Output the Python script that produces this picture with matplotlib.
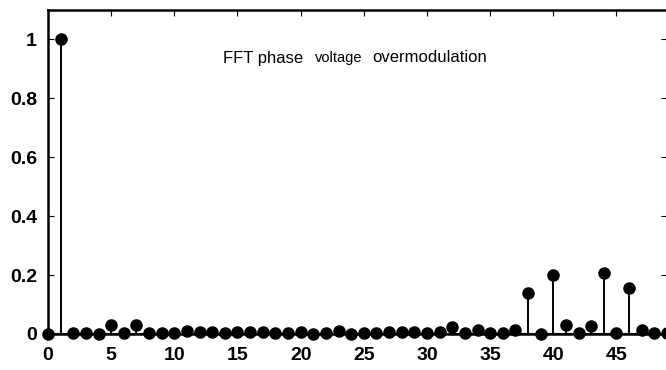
import matplotlib
matplotlib.use("Agg")
import matplotlib.pyplot as plt

harmonic = list(range(0, 50))
magnitude = [0.0, 1.0, 0.005, 0.005, 0.0, 0.03, 0.003, 0.03, 0.003, 0.005,
             0.005, 0.01, 0.008, 0.008, 0.005, 0.006, 0.008, 0.006, 0.005, 0.005,
             0.006, 0.0, 0.005, 0.01, 0.0, 0.005, 0.005, 0.008, 0.008, 0.006,
             0.005, 0.006, 0.024, 0.005, 0.015, 0.005, 0.005, 0.015, 0.14, 0.0,
             0.2, 0.03, 0.003, 0.027, 0.207, 0.003, 0.156, 0.012, 0.005, 0.005]
xticks = [0, 5, 10, 15, 20, 25, 30, 35, 40, 45]
yticks = [0, 0.2, 0.4, 0.6, 0.8, 1.0]
yticklabels = ["0", "0.2", "0.4", "0.6", "0.8", "1"]

fig = plt.figure(figsize=(6.66, 3.7), dpi=100)
W, H = 666, 370
x0, x1 = 48, 667
ytop, ybot = 10, 334
ax = fig.add_axes([x0 / W, 1 - ybot / H, (x1 - x0) / W, (ybot - ytop) / H])

ml, sl, bl = ax.stem(harmonic, magnitude, linefmt="k-", markerfmt="ko", basefmt="k-")
sl.set_linewidth(1.4)
ml.set_markersize(8)
ml.set_clip_on(False)
bl.set_linewidth(1.5)

ax.set_xlim(0, 49)
ax.set_ylim(0, 1.1)
ax.set_xticks(xticks)
ax.set_xticklabels([str(t) for t in xticks])
ax.set_yticks(yticks)
ax.set_yticklabels(yticklabels)
ax.tick_params(direction="in", top=True, right=True, length=4, width=0.8)
ax.tick_params(axis="y", pad=8)
ax.tick_params(axis="x", pad=9)
for lab in ax.get_xticklabels() + ax.get_yticklabels():
    lab.set_fontfamily("Liberation Sans")
    lab.set_fontweight("bold")
    lab.set_fontsize(14)
for s in ax.spines.values():
    s.set_linewidth(1.8)

yc = 1 - 58 / H
fig.text(223 / W, yc, "FFT phase", fontsize=12, family="Liberation Sans", va="center", ha="left")
fig.text(315 / W, yc, "voltage", fontsize=10.5, family="Liberation Sans", va="center", ha="left")
fig.text(372 / W, yc, "overmodulation", fontsize=12, family="Liberation Sans", va="center", ha="left")

fig.savefig("out.png", dpi=100)
